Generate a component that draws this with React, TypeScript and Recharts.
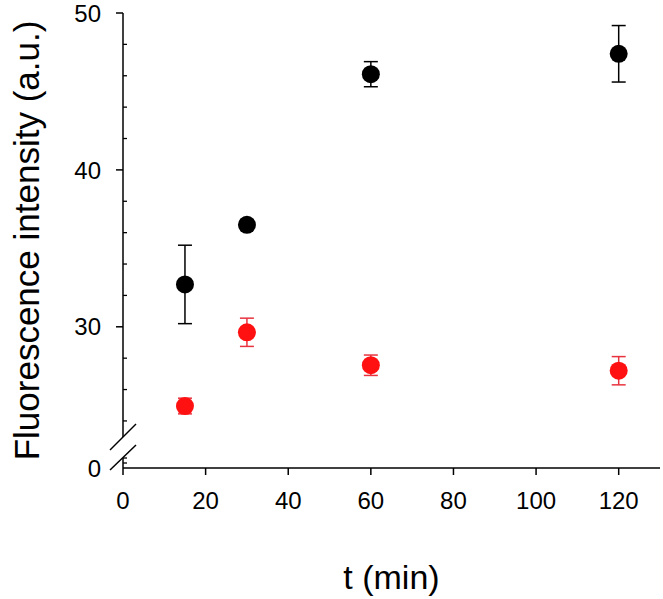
import React from "react";
import { ScatterChart, Scatter, XAxis, YAxis, ErrorBar } from "recharts";

// time points (min)
const times = [15, 30, 60, 120];
// black series
const blackMean = [32.7, 36.5, 46.1, 47.4];
const blackErr = [2.5, 0.3, 0.8, 1.8];
// red series
const redMean = [24.95, 29.65, 27.55, 27.2];
const redErr = [0.5, 0.9, 0.65, 0.9];

const xTicks = [0, 20, 40, 60, 80, 100, 120];
const yMajor = [30, 40, 50];
const yMinor = [24, 26, 28, 32, 34, 36, 38, 42, 44, 46, 48];
// axis is broken: the bottom of the axis stands for 0
const yBreak = 21;

const blackData = times.map((t, i) => ({ t, v: blackMean[i], err: blackErr[i] }));
const redData = times.map((t, i) => ({ t, v: redMean[i], err: redErr[i] }));

const RED = "#ff1111";
const RED_BAR = "#e8333f";

const YTick = (props: any) => {
  const { x, y, payload } = props;
  const v = payload.value;
  if (v === yBreak) {
    return (
      <g>
        <rect x={x - 2} y={y - 31} width={4} height={21} fill="#fff" />
        <line x1={x - 13} y1={y - 18} x2={x + 13} y2={y - 44} stroke="#000" strokeWidth={1.5} />
        <line x1={x - 13} y1={y + 2} x2={x + 13} y2={y - 23} stroke="#000" strokeWidth={1.5} />
        <line x1={x} y1={y - 10} x2={x + 4} y2={y - 10} stroke="#000" strokeWidth={1.3} />
        <line x1={x} y1={y - 5} x2={x + 4} y2={y - 5} stroke="#000" strokeWidth={1.3} />
        <text x={x - 22} y={y} dy="0.36em" textAnchor="end" fontSize={24} fill="#000">
          0
        </text>
      </g>
    );
  }
  if (yMajor.includes(v)) {
    return (
      <g>
        <line x1={x - 7} y1={y} x2={x} y2={y} stroke="#000" strokeWidth={1.5} />
        <text x={x - 22} y={y} dy="0.36em" textAnchor="end" fontSize={24} fill="#000">
          {v}
        </text>
      </g>
    );
  }
  return <line x1={x} y1={y} x2={x + 4} y2={y} stroke="#000" strokeWidth={1.3} />;
};

const YLabel = (props: any) => {
  const { viewBox } = props;
  const cx = viewBox.x + 26;
  const cy = viewBox.y + viewBox.height / 2;
  return (
    <text
      x={cx}
      y={cy}
      transform={`rotate(-90, ${cx}, ${cy})`}
      textAnchor="middle"
      dominantBaseline="central"
      fontSize={35}
      fill="#000"
    >
      Fluorescence intensity (a.u.)
    </text>
  );
};

const dot = (color: string) => (p: any) => <circle cx={p.cx} cy={p.cy} r={9} fill={color} />;

export default function App() {
  return (
    <div style={{ width: 663, height: 599, fontFamily: "'Liberation Sans', Arial, sans-serif" }}>
      <style>{"body{margin:0}"}</style>
      <ScatterChart width={663} height={599} margin={{ top: 13, right: 3, bottom: 0, left: 0 }}>
        <XAxis
          dataKey="t"
          type="number"
          domain={[0, 130]}
          ticks={xTicks}
          interval={0}
          height={131}
          tickSize={7}
          tickMargin={17}
          tick={{ fill: "#000", fontSize: 24 }}
          tickLine={{ stroke: "#000", strokeWidth: 1.5 }}
          axisLine={{ stroke: "#000", strokeWidth: 1.5 }}
          label={{ value: "t (min)", position: "insideBottom", offset: 10, fontSize: 34, fill: "#000" }}
        />
        <YAxis
          dataKey="v"
          type="number"
          domain={[yBreak, 50]}
          allowDataOverflow
          ticks={[yBreak, ...yMinor, ...yMajor].sort((a, b) => a - b)}
          interval={0}
          width={123}
          tickSize={0}
          tickMargin={0}
          tickLine={false}
          tick={<YTick />}
          axisLine={{ stroke: "#000", strokeWidth: 1.5 }}
          label={<YLabel />}
        />
        <Scatter data={blackData} shape={dot("#000")} isAnimationActive={false}>
          <ErrorBar dataKey="err" direction="y" width={7} stroke="#000" strokeWidth={1.5} isAnimationActive={false} />
        </Scatter>
        <Scatter data={redData} shape={dot(RED)} isAnimationActive={false}>
          <ErrorBar dataKey="err" direction="y" width={7} stroke={RED_BAR} strokeWidth={1.5} isAnimationActive={false} />
        </Scatter>
      </ScatterChart>
    </div>
  );
}
